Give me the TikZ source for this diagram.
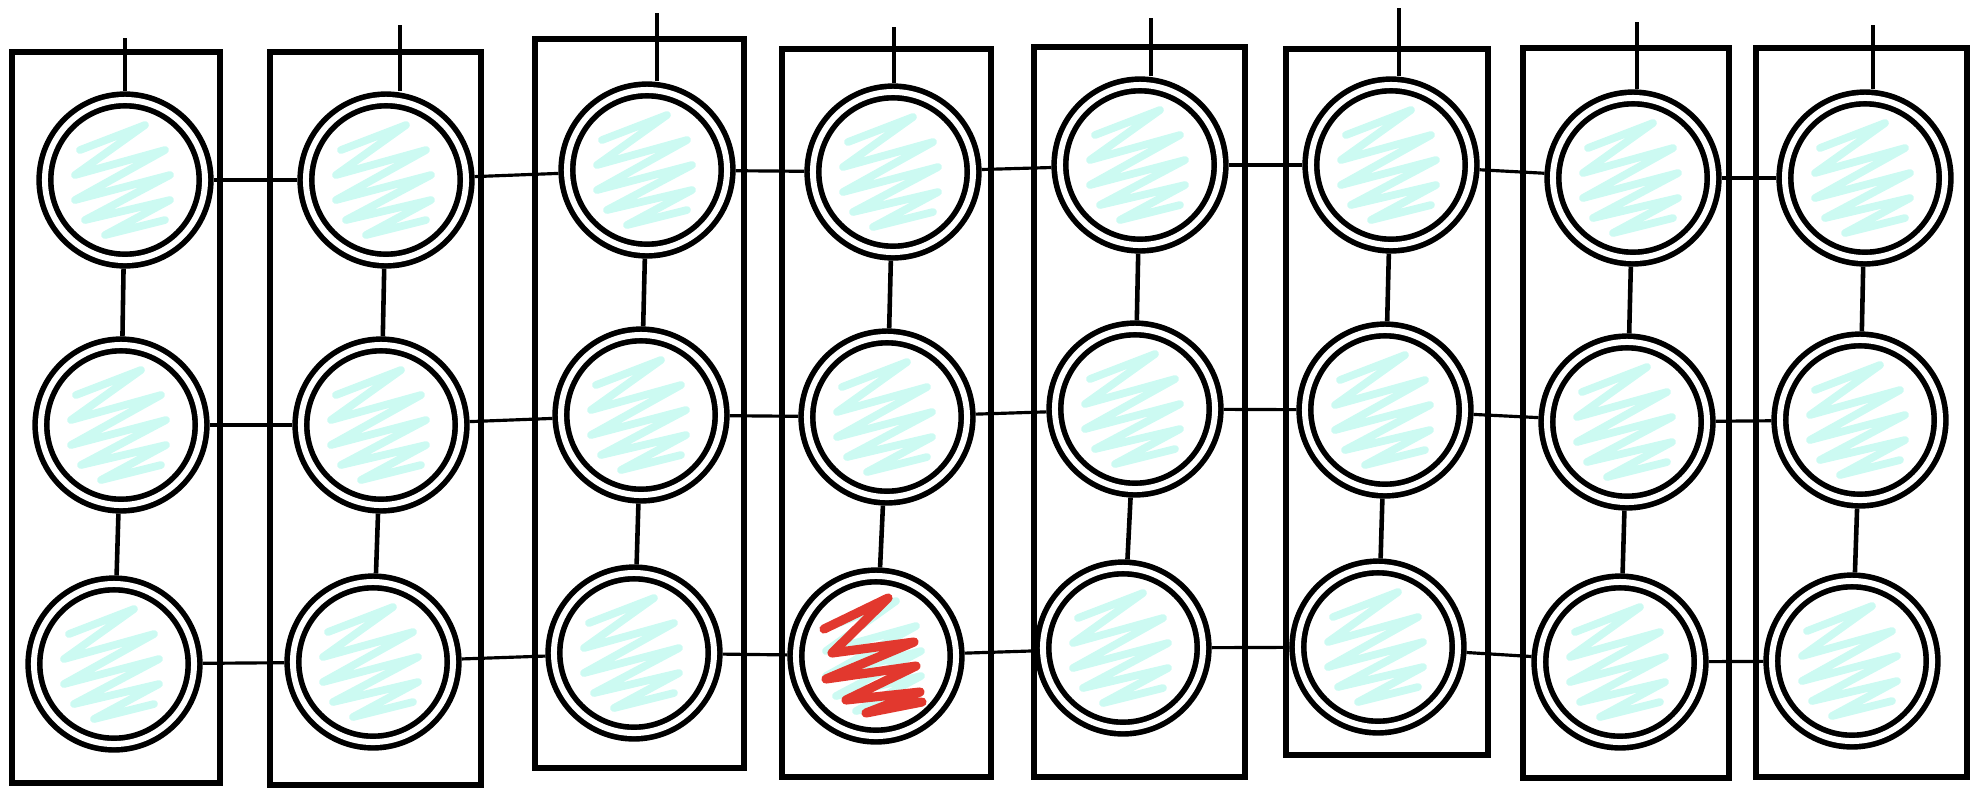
\documentclass[tikz,border=0pt]{standalone}
\usepackage{xcolor}
\definecolor{scribcyan}{RGB}{204,250,242}
\definecolor{scribred}{RGB}{226,56,46}

\begin{document}
\begin{tikzpicture}[x=0.01cm, y=-0.01cm,
    box/.style={line width=1.6pt},
    ring/.style={circle, draw, double=white, double distance=1.7pt, line width=1.6pt,
        minimum size=1.6cm, inner sep=0pt, outer sep=2.45pt},
    hlink/.style={line width=0.9pt},
    vlink/.style={line width=1.3pt},
    scrib/.style={line width=2.2pt, line join=round, line cap=round, scribcyan}]
    \useasboundingbox (0,0) rectangle (1982,787);
    % columns
    \foreach \xl/\xr/\yt/\yb in {12/220/52/783, 270/481/52/785, 535/744/39/768, 782/991/49/777,
        1034/1245/47/777, 1286/1488/49/755, 1523/1729/48/778, 1756/1967/48/777}
        \draw[box] (\xl,\yt) rectangle (\xr,\yb);
    % units
    \foreach \c/\xa/\ya/\xb/\yb/\xc/\yc/\tx/\ty in {1/125/180/121/425/114/664/125/38,
        2/386/180/381/425/373/662/400/25, 3/647/170/641/415/634/653/657/13,
        4/893/172/887/417/876/656/894/27, 5/1140/165/1135/409/1123/648/1151/18,
        6/1391/165/1385/410/1378/647/1399/8, 7/1633/178/1627/422/1620/662/1637/22,
        8/1865/178/1860/420/1852/661/1873/25} {
        \node[ring] (c\c r1) at (\xa,\ya) {};
        \node[ring] (c\c r2) at (\xb,\yb) {};
        \node[ring] (c\c r3) at (\xc,\yc) {};
        \coordinate (t\c) at (\tx,\ty);
    }
    % scribbles
    \foreach \n in {c1r1,c1r2,c1r3,c2r1,c2r2,c2r3,c3r1,c3r2,c3r3,c4r1,c4r2,c4r3,
        c5r1,c5r2,c5r3,c6r1,c6r2,c6r3,c7r1,c7r2,c7r3,c8r1,c8r2,c8r3}
        \draw[scrib, shift={(\n.center)}] (-45,-30) -- (20,-55) -- (-50,-5) -- (40,-30)
            -- (-50,20) -- (45,-5) -- (-40,40) -- (45,20) -- (-20,55) -- (40,40);
    \draw[scrib, scribred, line width=2.6pt, shift={(c4r3.center)}] (-52,-27) -- (12,-58)
        -- (-44,-3) -- (38,-14) -- (-50,23) -- (40,10) -- (-30,44) -- (44,36)
        -- (-10,57) -- (46,46);
    % links
    \foreach \c in {1,...,8} {
        \draw[vlink] (t\c) -- (t\c |- c\c r1.north);
        \draw[vlink] (c\c r1) -- (c\c r2);
        \draw[vlink] (c\c r2) -- (c\c r3);
    }
    \foreach \c [evaluate=\c as \d using int(\c+1)] in {1,...,7}
        \foreach \r in {1,2,3}
            \draw[hlink] (c\c r\r) -- (c\d r\r);
\end{tikzpicture}
\end{document}
